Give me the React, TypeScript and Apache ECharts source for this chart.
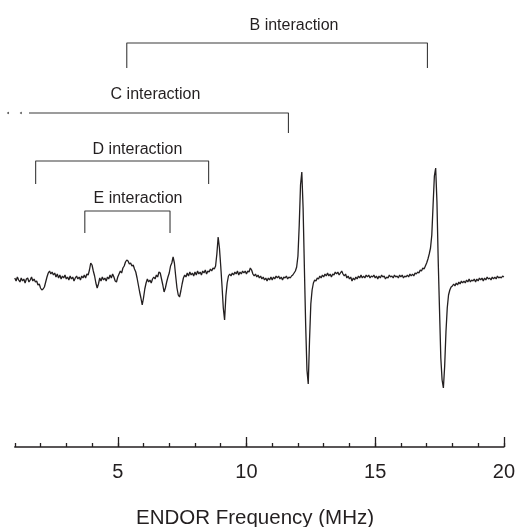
import React, { useEffect, useRef } from "react";
import * as echarts from "echarts";

// ENDOR spectrum: intensity (arbitrary units) sampled every 0.05 MHz from 1 MHz to 20 MHz
const FREQ_START = 1;
const FREQ_STEP = 0.05;
const INTENSITY = [
  2, -1, 3, 0, -2, 2, -1, 1, -3, 1, 2, -2, 0, 3, -1, 1, -2, -1, -5, -4,
  -8, -10, -9, -7, -2, 3, 7, 9, 6, 8, 5, 7, 3, 6, 2, 5, 1, 4, 2, 5,
  1, 3, 0, 4, 1, 3, -1, 2, 4, 1, 3, 0, 4, 2, 5, 2, 6, 5, 10, 17,
  15, 9, 4, -3, -8, -4, 2, -1, 3, 0, 2, -1, 3, 1, 5, 2, 6, 3, -1, -2,
  3, 6, 9, 7, 12, 14, 18, 20, 19, 16, 17, 14, 15, 11, 8, 2, -5, -12, -18, -25,
  -18, -9, -3, 1, -2, 0, -3, 1, 3, 1, 5, 3, 8, 7, 1, -5, -12, -8, -2, 3,
  7, 14, 17, 23, 17, 4, -8, -15, -17, -11, -4, 2, 5, 3, 7, 4, 8, 5, 7, 4,
  8, 5, 9, 6, 8, 5, 9, 7, 10, 6, 9, 8, 11, 9, 12, 11, 14, 26, 43, 32,
  14, -6, -28, -40, -16, -3, 4, 6, 4, 7, 5, 8, 6, 9, 5, 8, 6, 9, 7, 9,
  6, 9, 8, 12, 10, 6, 4, 6, 3, 5, 2, 4, 1, 3, 0, 2, -1, 2, 0, 3,
  0, 3, 1, 4, 2, 4, 1, 3, 0, 3, 2, 4, 1, 3, 2, 4, 5, 7, 9, 13,
  24, 55, 95, 108, 72, 12, -45, -90, -104, -60, -24, -10, -3, 0, -1, 2, 1, 4, 2, 5,
  3, 6, 4, 7, 4, 6, 3, 6, 5, 8, 6, 8, 5, 7, 9, 6, 4, 6, 2, 4,
  1, 3, -1, 2, 0, 3, 1, 4, 2, 5, 2, 4, 2, 5, 3, 5, 2, 4, 3, 5,
  2, 4, 1, 4, 2, 5, 3, 4, 1, 3, 2, 5, 3, 4, 2, 5, 3, 4, 2, 5,
  3, 5, 2, 4, 3, 5, 3, 6, 4, 6, 4, 7, 6, 8, 7, 10, 9, 12, 11, 14,
  17, 21, 26, 32, 45, 75, 104, 112, 78, 18, -30, -78, -100, -108, -86, -52, -28, -15, -10, -7,
  -6, -4, -6, -3, -5, -2, -4, -1, -3, -1, -3, 0, -2, 1, -2, 0, -1, 1, -2, 1,
  -1, 2, 0, 2, -1, 2, 0, 3, 1, 2, 0, 3, 1, 3, 1, 4, 2, 3, 2, 4,
  3,
];

// Axis
const X_MIN = 1;
const X_MAX = 20;
const MINOR_INTERVAL = 1;
const MAJOR_TICKS = [5, 10, 15, 20];
const Y_MIN = -167;
const Y_MAX = 280;

// Interaction brackets: [frequency, level] corner points
const B_BRACKET = [[5.35, 212], [5.35, 237], [17.03, 237], [17.03, 212]];
const C_BRACKET = [[1.55, 167], [11.63, 167], [11.63, 147]];
const C_DOTS = [[0.74, 167], [1.24, 167]];
const D_BRACKET = [[1.81, 96], [1.81, 119], [8.53, 119], [8.53, 96]];
const E_BRACKET = [[3.72, 47], [3.72, 69], [7.03, 69], [7.03, 47]];

const BRACKET_LABELS = ["B interaction", "C interaction", "D interaction", "E interaction"];
const X_TITLE = "ENDOR Frequency (MHz)";

const INK = "#231f20";
const FONT = "'Liberation Sans', Arial, Helvetica, sans-serif";

export default function App() {
  const ref = useRef<HTMLDivElement>(null);

  useEffect(() => {
    if (!ref.current) return;
    const chart = echarts.init(ref.current, undefined, { renderer: "svg" });
    const spectrum = INTENSITY.map((v, i) => [
      +(FREQ_START + i * FREQ_STEP).toFixed(2),
      v,
    ]);
    const bracketSeries = (data: number[][]) => ({
      type: "line",
      data,
      symbol: "none",
      clip: false,
      silent: true,
      lineStyle: { color: "#3a3a3a", width: 1.1 },
    });

    const labelPos = [
      [294, 24],
      [155.5, 93],
      [137.5, 148],
      [138, 197],
    ];

    chart.setOption({
      animation: false,
      grid: { left: 14.8, right: 13, top: 0, bottom: 80, containLabel: false },
      xAxis: [
        {
          type: "value",
          min: X_MIN,
          max: X_MAX,
          interval: MINOR_INTERVAL,
          position: "bottom",
          axisLine: { show: true, onZero: false, lineStyle: { color: INK, width: 1.6 } },
          axisTick: {
            show: true,
            inside: true,
            length: 4,
            lineStyle: { color: INK, width: 1.3 },
          },
          splitLine: { show: false },
          axisLabel: { show: false },
        },
        {
          type: "value",
          min: X_MIN,
          max: X_MAX,
          position: "bottom",
          axisLine: { show: false, onZero: false },
          axisTick: {
            show: true,
            inside: true,
            length: 10,
            customValues: MAJOR_TICKS,
            lineStyle: { color: INK, width: 1.3 },
          },
          splitLine: { show: false },
          axisLabel: {
            show: true,
            customValues: MAJOR_TICKS,
            margin: 14,
            color: INK,
            fontSize: 20,
            fontFamily: FONT,
          },
        },
      ],
      yAxis: { type: "value", min: Y_MIN, max: Y_MAX, show: false },
      series: [
        {
          type: "line",
          data: spectrum,
          symbol: "none",
          clip: false,
          silent: true,
          lineStyle: { color: INK, width: 1.3 },
        },
        bracketSeries(B_BRACKET),
        bracketSeries(C_BRACKET),
        bracketSeries(D_BRACKET),
        bracketSeries(E_BRACKET),
        {
          type: "scatter",
          data: C_DOTS,
          symbol: "circle",
          symbolSize: 2,
          clip: false,
          silent: true,
          itemStyle: { color: "#3a3a3a" },
        },
      ],
      graphic: [
        ...BRACKET_LABELS.map((t, i) => ({
          type: "text",
          x: labelPos[i][0],
          y: labelPos[i][1],
          silent: true,
          style: {
            text: t,
            fill: INK,
            font: `16px ${FONT}`,
            align: "center",
            verticalAlign: "middle",
          },
        })),
        {
          type: "text",
          x: 255,
          y: 516,
          silent: true,
          style: {
            text: X_TITLE,
            fill: INK,
            font: `20.5px ${FONT}`,
            align: "center",
            verticalAlign: "middle",
          },
        },
      ],
    });
    return () => chart.dispose();
  }, []);

  return (
    <div
      ref={ref}
      style={{ position: "fixed", left: 0, top: 0, width: 518, height: 527 }}
    />
  );
}
